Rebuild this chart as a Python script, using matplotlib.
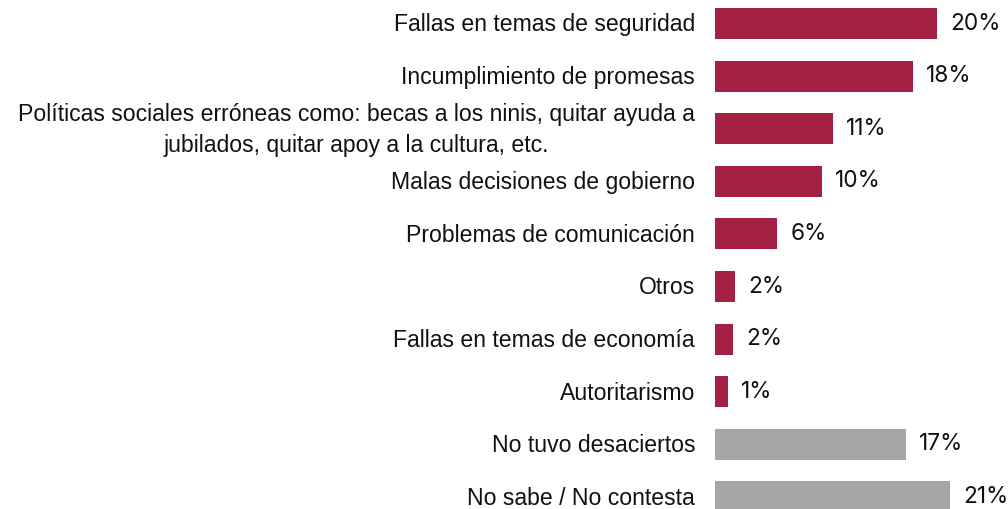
import matplotlib.pyplot as plt

# categorías y porcentajes
categorias = [
    'Fallas en temas de seguridad',
    'Incumplimiento de promesas',
    'Políticas sociales erróneas como: becas a los ninis, quitar ayuda a\njubilados, quitar apoy a la cultura, etc.',
    'Malas decisiones de gobierno',
    'Problemas de comunicación',
    'Otros',
    'Fallas en temas de economía',
    'Autoritarismo',
    'No tuvo desaciertos',
    'No sabe / No contesta',
]
valores = [20.0, 17.8, 10.6, 9.6, 5.6, 1.8, 1.65, 1.17, 17.2, 21.2]
etiquetas = ['20%', '18%', '11%', '10%', '6%', '2%', '2%', '1%', '17%', '21%']
grupo = ['d'] * 8 + ['n'] * 2

rojo = '#A32244'
gris = '#A6A6A6'

fig = plt.figure(figsize=(10.08, 5.09), dpi=100)
W, H = 1008, 509
# eje de barras: x0 = 715 px, escala ~11.1 px por punto
x0 = 715
esc = 11.1
paso = 52.6
top = 23.5 - 0.45 * paso
bot = 23.5 + 9 * paso + 0.5 * paso
ax = fig.add_axes([x0 / W, 1 - bot / H, (W - x0) / W, (bot - top) / H])

ypos = list(range(len(categorias)))
colores = [rojo if g == 'd' else gris for g in grupo]
ax.barh(ypos, valores, height=0.59, color=colores)
ax.set_xlim(0, (W - x0) / esc)
ax.set_ylim(9.5, -0.45)
ax.axis('off')

for y, v, et in zip(ypos, valores, etiquetas):
    ax.annotate(et, (v, y), xytext=(9.4, 0), textcoords='offset points',
                ha='left', va='center', fontsize=16.3, family='Inter', color='#111111')

for y, c in zip(ypos, categorias):
    ax.annotate(c, (0, y), xytext=(-20 * 0.72, -1), textcoords='offset points',
                ha='right', va='center', multialignment='center',
                fontsize=16.6, family='Liberation Sans', color='#111111',
                linespacing=1.4)

fig.savefig('out.png', dpi=100)
